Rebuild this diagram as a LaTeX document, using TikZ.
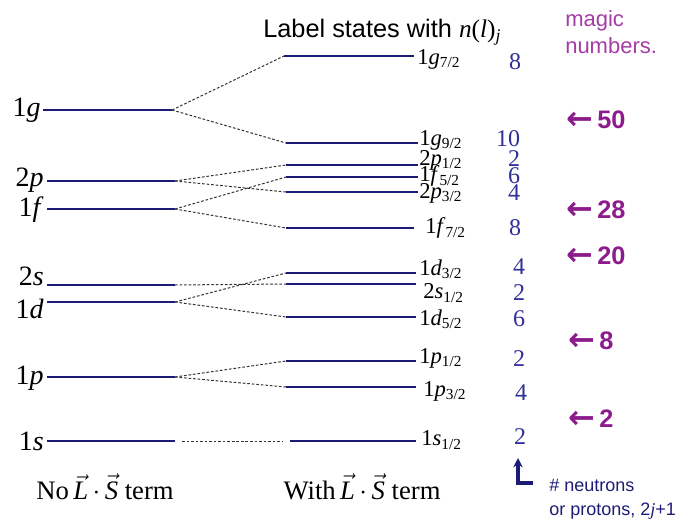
\documentclass[tikz,border=0pt]{standalone}
\usepackage{fontspec}
\setmainfont{Liberation Serif}
\setsansfont{Liberation Sans}
\newfontfamily\arrowfont{DejaVu Sans}
\usetikzlibrary{arrows.meta}
\definecolor{navy}{RGB}{28,28,118}
\definecolor{numblue}{RGB}{48,48,150}
\definecolor{magic}{RGB}{140,28,140}
\definecolor{magiclight}{RGB}{165,60,165}
\tikzset{
  level/.style={draw=navy, line width=2.1pt},
  conn/.style={draw=black!80, line width=0.75pt, dash pattern=on 2pt off 1.4pt},
  leftlab/.style={anchor=east, inner sep=0pt, font=\fontsize{21}{21}\selectfont},
  rightlab/.style={anchor=west, inner sep=0pt, font=\fontsize{17}{17}\selectfont},
  num/.style={inner sep=0pt, text=numblue, font=\fontsize{18}{18}\selectfont},
  magicnum/.style={anchor=west, inner sep=0pt, text=magic, font=\sffamily\bfseries\fontsize{19}{19}\selectfont},
}
\newcommand{\st}[3]{#1\textit{#2}\textsubscript{\fontsize{11.5}{11.5}\selectfont #3}}
\newcommand{\vL}{$\vec{\mbox{\textit{L}}}$}
\newcommand{\vS}{$\vec{\mbox{\textit{S}}}$}
\newcommand{\larr}{\raisebox{-1.2pt}{\arrowfont\bfseries\fontsize{24}{24}\selectfont ←}}
\begin{document}
\begin{tikzpicture}[x=0.75pt, y=-0.75pt]
\useasboundingbox (0,0) rectangle (689,521);
% left levels
\coordinate (g1A) at (43,110);  \coordinate (g1B) at (172,110);
\coordinate (p2A) at (47,181);  \coordinate (p2B) at (175,181);
\coordinate (f1A) at (47,209);  \coordinate (f1B) at (175,209);
\coordinate (s2A) at (47,285);  \coordinate (s2B) at (175,285);
\coordinate (d1A) at (47,302);  \coordinate (d1B) at (175,302);
\coordinate (p1A) at (47,377);  \coordinate (p1B) at (175,377);
\coordinate (s1A) at (47,441);  \coordinate (s1B) at (175,441);
\foreach \n in {g1,p2,f1,s2,d1,p1,s1} {\draw[level] (\n A) -- (\n B);}
% right levels
\coordinate (g7A) at (284,56);  \coordinate (g7B) at (414,56);
\coordinate (g9A) at (286,143); \coordinate (g9B) at (418,143);
\coordinate (pa1A) at (286,165); \coordinate (pa1B) at (418,165);
\coordinate (f5A) at (286,177); \coordinate (f5B) at (418,177);
\coordinate (pa3A) at (286,192); \coordinate (pa3B) at (418,192);
\coordinate (f7A) at (286,228); \coordinate (f7B) at (414,228);
\coordinate (d3A) at (286,273); \coordinate (d3B) at (416,273);
\coordinate (sa1A) at (286,284); \coordinate (sa1B) at (416,284);
\coordinate (d5A) at (286,317); \coordinate (d5B) at (416,317);
\coordinate (pb1A) at (286,361); \coordinate (pb1B) at (416,361);
\coordinate (pb3A) at (286,387); \coordinate (pb3B) at (416,387);
\coordinate (sb1A) at (290,441); \coordinate (sb1B) at (416,441);
\foreach \n in {g7,g9,pa1,f5,pa3,f7,d3,sa1,d5,pb1,pb3,sb1} {\draw[level] (\n A) -- (\n B);}
% connectors
\draw[conn] (g1B) -- (g7A);
\draw[conn] (g1B) -- (g9A);
\draw[conn] (p2B) -- (pa1A);
\draw[conn] (p2B) -- (pa3A);
\draw[conn] (f1B) -- (f5A);
\draw[conn] (f1B) -- (f7A);
\draw[conn] (s2B) -- (sa1A);
\draw[conn] (d1B) -- (d3A);
\draw[conn] (d1B) -- (d5A);
\draw[conn] (p1B) -- (pb1A);
\draw[conn] (p1B) -- (pb3A);
\coordinate (s1C) at (182,441); \coordinate (sb1C) at (283,441);
\draw[conn] (s1C) -- (sb1C);
% left labels
\node[leftlab] (lg) at (41,110) {1\textit{g}};
\node[leftlab] (lp2) at (44,180) {2\textit{p}};
\node[leftlab] (lf1) at (44,210) {1\textit{f}};
\node[leftlab] (ls2) at (44,276) {2\textit{s}};
\node[leftlab] (ld1) at (44,309) {1\textit{d}};
\node[leftlab] (lp1) at (44,378) {1\textit{p}};
\node[leftlab] (ls1) at (44,441) {1\textit{s}};
% right labels
\node[rightlab] (rg7) at (417,59) {\st{1}{g}{7/2}};
\node[rightlab] (rg9) at (419,140) {\st{1}{g}{9/2}};
\node[rightlab] (rpa1) at (419,160) {\st{2}{p}{1/2}};
\node[rightlab] (rf5) at (419,176) {\st{1}{f}{5/2}};
\node[rightlab] (rpa3) at (419,193) {\st{2}{p}{3/2}};
\node[rightlab] (rf7) at (425,228) {\st{1}{f}{7/2}};
\node[rightlab] (rd3) at (419,269) {\st{1}{d}{3/2}};
\node[rightlab] (rsa1) at (423,293) {\st{2}{s}{1/2}};
\node[rightlab] (rd5) at (419,319) {\st{1}{d}{5/2}};
\node[rightlab] (rpb1) at (419,358) {\st{1}{p}{1/2}};
\node[rightlab] (rpb3) at (423,391) {\st{1}{p}{3/2}};
\node[rightlab] (rsb1) at (421,440) {\st{1}{s}{1/2}};
% degeneracies
\node[num] (n1) at (515,62) {8};
\node[num] (n2) at (508,139) {10};
\node[num] (n3) at (514,159) {2};
\node[num] (n4) at (514,176) {6};
\node[num] (n5) at (514,193) {4};
\node[num] (n6) at (515,228) {8};
\node[num] (n7) at (519,267) {4};
\node[num] (n8) at (519,293) {2};
\node[num] (n9) at (519,319) {6};
\node[num] (n10) at (519,359) {2};
\node[num] (n11) at (521,393) {4};
\node[num] (n12) at (520,437) {2};
% magic numbers
\node[anchor=west, inner sep=0pt, text=magiclight, align=left, font=\sffamily\fontsize{16.5}{20}\selectfont] (mt) at (565,32) {magic\\numbers.};
\node[magicnum] (m50) at (566,120) {\larr\,50};
\node[magicnum] (m28) at (566,210) {\larr\,28};
\node[magicnum] (m20) at (566,256) {\larr\,20};
\node[magicnum] (m8) at (568,341) {\larr\,8};
\node[magicnum] (m2) at (568,419) {\larr\,2};
% title
\node[anchor=west, inner sep=0pt, font=\fontsize{19}{19}\selectfont] (title) at (263,32) {\sffamily Label states with \rmfamily\textit{n}(\textit{l})\textsubscript{\textit{j}}};
% bottom labels
\node[inner sep=0pt, font=\fontsize{20}{20}\selectfont] (bl) at (105,487) {No\,\vL\,$\cdot$\,\vS\ term};
\node[inner sep=0pt, font=\fontsize{20}{20}\selectfont] (br) at (362,487) {With\,\vL\,$\cdot$\,\vS\ term};
% bottom arrow
\coordinate (arrTop) at (518,458);
\coordinate (arrCorner) at (518,483);
\coordinate (arrEnd) at (533,483);
\draw[navy, line width=2.6pt, -{Stealth[length=7pt,width=7pt]}] (arrEnd) -- (arrCorner) -- (arrTop);
\node[anchor=west, inner sep=0pt, text=navy, align=left, font=\sffamily\fontsize{13.5}{18}\selectfont] (note) at (549,499) {\# neutrons\\or protons, 2\rmfamily\textit{j}\sffamily+1};
\end{tikzpicture}
\end{document}
